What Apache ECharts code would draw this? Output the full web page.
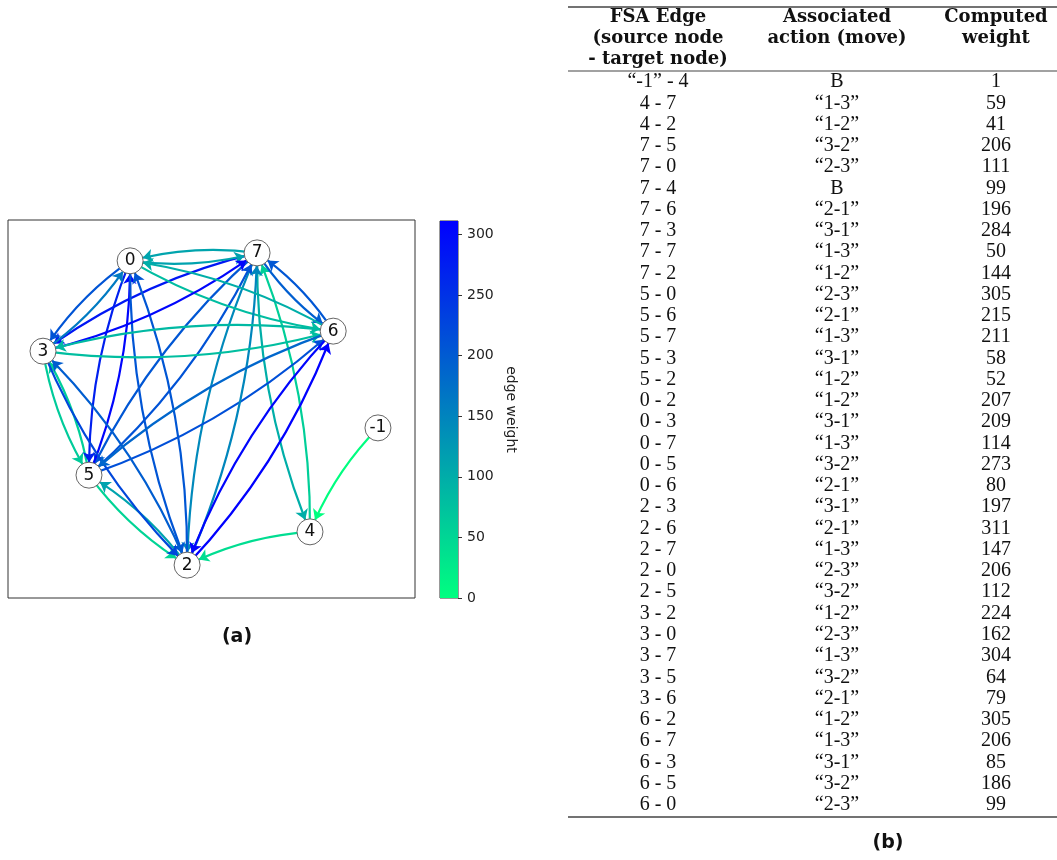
<!DOCTYPE html>
<html><head><meta charset="utf-8">
<script src="https://cdn.jsdelivr.net/npm/echarts@6/dist/echarts.min.js"></script>
<style>html,body{margin:0;padding:0;background:#fff}#main{width:1057px;height:860px}</style>
</head><body><div id="main"></div>
<script>
// ---- data ----
const nodeNames = ['0', '7', '6', '3', '5', '2', '4', '-1'];
// graph layout positions (unitless layout space 0..1)
const nodeX = [0.300, 0.612, 0.799, 0.086, 0.199, 0.440, 0.742, 0.909];
const nodeY = [0.892, 0.913, 0.706, 0.653, 0.325, 0.087, 0.175, 0.450];

const edgeSource = ['-1','4','4','7','7','7','7','7','7','7','5','5','5','5','5','0','0','0','0','0','2','2','2','2','2','3','3','3','3','3','6','6','6','6','6'];
const edgeTarget = ['4','7','2','5','0','4','6','3','7','2','0','6','7','3','2','2','3','7','5','6','3','6','7','0','5','2','0','7','5','6','2','7','3','5','0'];
const edgeAction = ['B','1-3','1-2','3-2','2-3','B','2-1','3-1','1-3','1-2','2-3','2-1','1-3','3-1','1-2','1-2','3-1','1-3','3-2','2-1','3-1','2-1','1-3','2-3','3-2','1-2','2-3','1-3','3-2','2-1','1-2','1-3','3-1','3-2','2-3'];
const edgeWeight = [1,59,41,206,111,99,196,284,50,144,305,215,211,58,52,207,209,114,273,80,197,311,147,206,112,224,162,304,64,79,305,206,85,186,99];

const colorbarMin = 0;
const colorbarMax = 311;
const colorbarStep = 50;
const colorLow = '#00ff80';   // winter_r low end
const colorHigh = '#0000ff';  // winter_r high end

const headerCol1 = ['FSA Edge', '(source node', '- target node)'];
const headerCol2 = ['Associated', 'action (move)'];
const headerCol3 = ['Computed', 'weight'];

// ---- build ----
const chart = echarts.init(document.getElementById('main'), null, {renderer: 'canvas'});

function edgeColor(w) {
  return echarts.color.lerp((w - colorbarMin) / (colorbarMax - colorbarMin), [colorLow, colorHigh]);
}

const nodes = nodeNames.map((n, i) => ({name: n, value: [nodeX[i], nodeY[i]]}));
const links = [];
edgeSource.forEach((s, i) => {
  if (s === edgeTarget[i]) return; // self-loop not drawn
  links.push({source: s, target: edgeTarget[i], value: edgeWeight[i],
    lineStyle: {color: edgeColor(edgeWeight[i])}});
});

// table graphics
const graphics = [];
const ruleX1 = 568, ruleX2 = 1057;
[[7, 1.6], [71, 1.1], [817, 1.6]].forEach(([y, w]) => {
  graphics.push({type: 'line', shape: {x1: ruleX1, y1: y, x2: ruleX2, y2: y},
    style: {stroke: '#444', lineWidth: w}, silent: true});
});
const colX = [658, 837, 996];
const headerY0 = 17, lineH = 21.26;
const headerFont = {fontFamily: 'DejaVu Serif', fontWeight: 'bold', fontSize: 18};
[headerCol1, headerCol2, headerCol3].forEach((col, c) => {
  col.forEach((t, r) => {
    graphics.push({type: 'text', silent: true, style: Object.assign({
      text: t, x: colX[c], y: headerY0 + r * lineH, align: 'center', verticalAlign: 'middle',
      fill: '#111'}, headerFont)});
  });
});
const rowY0 = 82;
const bodyFont = {fontFamily: 'Liberation Serif', fontSize: 20};
const q = s => '\u201c' + s + '\u201d';
edgeSource.forEach((s, i) => {
  const c1 = (s === '-1' ? q(s) : s) + ' - ' + edgeTarget[i];
  const c2 = edgeAction[i] === 'B' ? 'B' : q(edgeAction[i]);
  const c3 = String(edgeWeight[i]);
  [c1, c2, c3].forEach((t, c) => {
    graphics.push({type: 'text', silent: true, style: Object.assign({
      text: t, x: colX[c], y: rowY0 + i * lineH, align: 'center', verticalAlign: 'middle',
      fill: '#111'}, bodyFont)});
  });
});
// panel captions
graphics.push({type: 'text', silent: true, style: {text: '(a)', x: 237, y: 637, align: 'center',
  verticalAlign: 'middle', fontFamily: 'DejaVu Sans', fontWeight: 'bold', fontSize: 19, fill: '#111'}});
graphics.push({type: 'text', silent: true, style: {text: '(b)', x: 888, y: 843, align: 'center',
  verticalAlign: 'middle', fontFamily: 'DejaVu Sans', fontWeight: 'bold', fontSize: 19, fill: '#111'}});

const option = {
  backgroundColor: '#fff',
  animation: false,
  grid: [
    {left: 8, top: 220, width: 407, height: 378, show: true, borderColor: '#333', borderWidth: 1, backgroundColor: '#fff'},
    {left: 440, top: 221, width: 18, height: 377, show: true, borderColor: '#333', borderWidth: 1}
  ],
  xAxis: [
    {type: 'value', gridIndex: 0, min: 0, max: 1, show: false},
    {type: 'category', gridIndex: 1, data: [''], show: false}
  ],
  yAxis: [
    {type: 'value', gridIndex: 0, min: 0, max: 1, show: false},
    {type: 'value', gridIndex: 1, min: colorbarMin, max: colorbarMax, interval: colorbarStep, position: 'right',
      axisLine: {show: false}, splitLine: {show: false},
      axisTick: {show: true, length: 4, lineStyle: {color: '#333', width: 1}},
      axisLabel: {show: true, margin: 9, fontSize: 14, color: '#222', fontFamily: 'DejaVu Sans', showMaxLabel: false},
      name: 'edge weight', nameLocation: 'middle', nameRotate: -90, nameGap: 46,
      nameTextStyle: {fontSize: 14, color: '#222', fontFamily: 'DejaVu Sans'}}
  ],
  graphic: graphics,
  series: [
    {
      type: 'bar', xAxisIndex: 1, yAxisIndex: 1, silent: true, barWidth: '100%',
      data: [colorbarMax],
      itemStyle: {color: new echarts.graphic.LinearGradient(0, 1, 0, 0, [
        {offset: 0, color: colorLow}, {offset: 1, color: colorHigh}])}
    },
    {
      type: 'graph', coordinateSystem: 'cartesian2d', xAxisIndex: 0, yAxisIndex: 0,
      layout: 'none', silent: true,
      symbol: 'circle', symbolSize: 26,
      itemStyle: {color: '#fff', borderColor: '#666', borderWidth: 1},
      label: {show: true, position: 'inside', fontSize: 17, color: '#111', fontFamily: 'DejaVu Sans'},
      edgeSymbol: ['none', 'arrow'], edgeSymbolSize: [0, 10],
      lineStyle: {width: 2.2, curveness: -0.1, opacity: 1},
      data: nodes,
      links: links
    }
  ]
};
chart.setOption(option);
</script>
</body></html>
